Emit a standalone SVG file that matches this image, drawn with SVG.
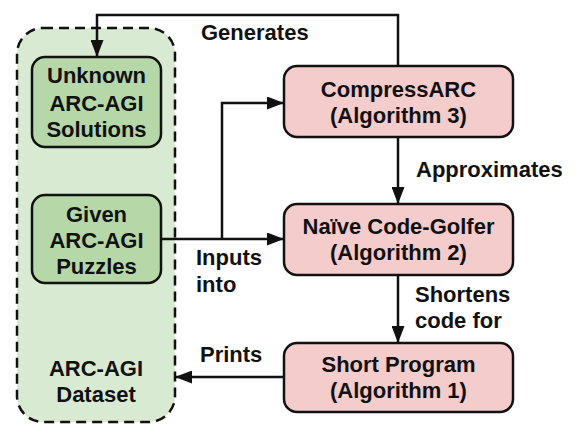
<svg xmlns="http://www.w3.org/2000/svg" width="577" height="445" viewBox="0 0 577 445">
<style>
text{font-family:"Liberation Sans",Arial,sans-serif;font-weight:bold;font-size:22px;fill:#111;text-anchor:middle}
.lbl{text-anchor:start}
.green{fill:#b6d7a8;stroke:#111;stroke-width:2.5}
.pink{fill:#f4cccc;stroke:#111;stroke-width:2.5}
.edge{fill:none;stroke:#111;stroke-width:2.5}
</style>
<defs>
<marker id="arr" viewBox="0 0 17 13" refX="17" refY="6.5" markerWidth="17" markerHeight="13" markerUnits="userSpaceOnUse" orient="auto">
<path d="M0,0 L17,6.5 L0,13 Z" fill="#111"/>
</marker>
</defs>
<g id="dataset">
<rect x="17" y="28" width="158" height="394" rx="26" fill="#d9ead3" stroke="#111" stroke-width="2.5" stroke-dasharray="10,6"/>
<text x="96" y="376">ARC-AGI</text>
<text x="96" y="402">Dataset</text>
</g>
<g id="unknown">
<rect class="green" x="32" y="57" width="129" height="90" rx="13"/>
<text x="96.5" y="83">Unknown</text>
<text x="96.5" y="111">ARC-AGI</text>
<text x="96.5" y="137">Solutions</text>
</g>
<g id="given">
<rect class="green" x="32" y="195" width="129" height="88" rx="13"/>
<text x="96.5" y="222">Given</text>
<text x="96.5" y="248">ARC-AGI</text>
<text x="96.5" y="274">Puzzles</text>
</g>
<g id="compressarc">
<rect class="pink" x="284" y="66" width="229" height="71" rx="13"/>
<text x="398.5" y="97">CompressARC</text>
<text x="398.5" y="123">(Algorithm 3)</text>
</g>
<g id="golfer">
<rect class="pink" x="284" y="204" width="229" height="71" rx="13"/>
<text x="398.5" y="234">Naïve Code-Golfer</text>
<text x="398.5" y="260">(Algorithm 2)</text>
</g>
<g id="short">
<rect class="pink" x="284" y="343" width="229" height="69" rx="13"/>
<text x="398.5" y="372">Short Program</text>
<text x="398.5" y="398">(Algorithm 1)</text>
</g>
<g id="connectors">
<path class="edge" d="M398,66 V15 H97 V57" marker-end="url(#arr)"/>
<path class="edge" d="M398,137 V204" marker-end="url(#arr)"/>
<path class="edge" d="M398,275 V343" marker-end="url(#arr)"/>
<path class="edge" d="M161,239 H284" marker-end="url(#arr)"/>
<path class="edge" d="M222,239 V103 H284" marker-end="url(#arr)"/>
<path class="edge" d="M284,377 H175" marker-end="url(#arr)"/>
<text class="lbl" x="201" y="40">Generates</text>
<text class="lbl" x="416" y="177">Approximates</text>
<text class="lbl" x="196" y="265">Inputs</text>
<text class="lbl" x="196" y="292">into</text>
<text class="lbl" x="415" y="302">Shortens</text>
<text class="lbl" x="415" y="328">code for</text>
<text class="lbl" x="200" y="362">Prints</text>
</g>
</svg>
